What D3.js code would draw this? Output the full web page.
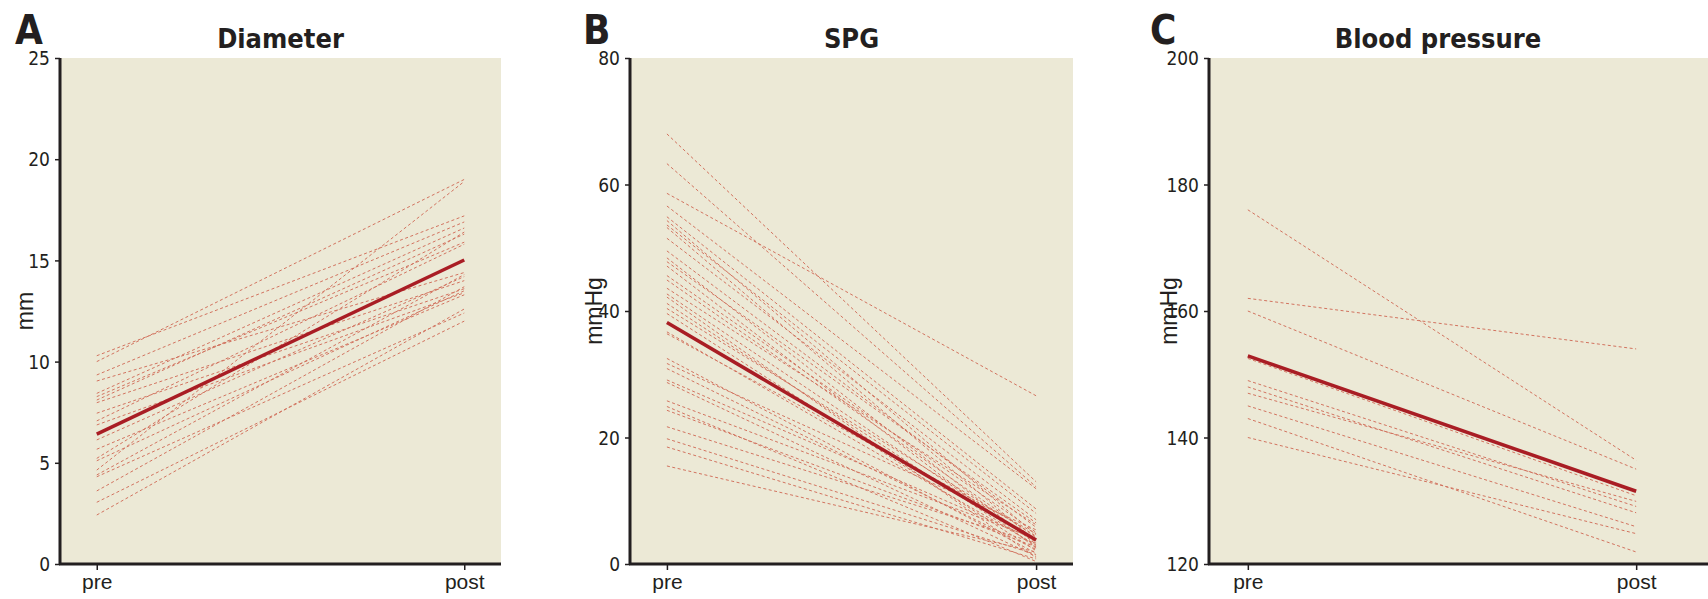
<!DOCTYPE html>
<html>
<head>
<meta charset="utf-8">
<script src="https://cdn.jsdelivr.net/npm/d3@7/dist/d3.min.js"></script>
<style>
  body { margin: 0; background: #fff; }
  .cond { font-family: "Liberation Sans Narrow", "DejaVu Sans Condensed", "Arial Narrow", sans-serif; font-stretch: condensed; }
  .reg { font-family: "Liberation Sans", Arial, sans-serif; }
</style>
</head>
<body>
<svg id="chart" width="1708" height="599"></svg>
<script>
// categories
var timepoints = ["pre", "post"];

// A: diameter (mm)
var diameterPre  = [10.29, 10.0, 9.34, 9.04, 8.43, 8.27, 8.10, 7.97, 7.45, 7.07, 6.87, 6.13, 5.67, 5.22, 5.10, 4.64, 4.40, 4.31, 3.61, 3.05, 2.42];
var diameterPost = [17.2, 19.0, 16.9, 14.4, 16.6, 15.9, 16.3, 14.0, 13.6, 15.8, 13.4, 14.2, 13.3, 16.4, 13.5, 18.9, 14.3, 12.4, 13.7, 12.0, 12.6];
var diameterMean = [6.42, 15.02];
var diameterTicks = [0, 5, 10, 15, 20, 25];

// B: SPG (mmHg)
var spgPre  = [68.0, 63.3, 58.6, 56.6, 54.9, 54.3, 53.6, 53.2, 51.5, 49.5, 48.4, 47.8, 47.1, 45.6, 44.9, 43.6, 42.7, 42.2, 41.2, 40.4, 39.6, 36.7, 36.4, 32.5, 31.7, 30.9, 29.1, 28.7, 25.8, 24.9, 24.3, 21.7, 19.8, 18.5, 15.5];
var spgPost = [13.0, 12.2, 26.6, 11.9, 8.7, 4.6, 8.0, 3.6, 7.0, 5.8, 3.1, 6.5, 2.5, 5.0, 4.2, 6.2, 3.4, 1.0, 2.8, 4.4, 2.1, 3.0, 4.8, 1.7, 5.4, 2.3, 3.8, 1.2, 4.0, 0.4, 2.7, 3.3, 1.5, 0.8, 1.9];
var spgMean = [38.2, 3.8];
var spgTicks = [0, 20, 40, 60, 80];

// C: blood pressure (mmHg)
var bpPre  = [176, 162, 160, 152.5, 149, 148, 147, 145, 143, 140];
var bpPost = [136.4, 154, 135, 130.8, 129.1, 128.1, 129.9, 125.9, 121.9, 124.8];
var bpMean = [152.9, 131.5];
var bpTicks = [120, 140, 160, 180, 200];

var panels = [
  {letter: "A", title: "Diameter", unit: "mm", pre: diameterPre, post: diameterPost, mean: diameterMean, ticks: diameterTicks,
   x0: 60, x1: 501, bgRight: 501, letterX: 15, unitX: 25},
  {letter: "B", title: "SPG", unit: "mmHg", pre: spgPre, post: spgPost, mean: spgMean, ticks: spgTicks,
   x0: 630, x1: 1073, bgRight: 1073, letterX: 583, unitX: 594},
  {letter: "C", title: "Blood pressure", unit: "mmHg", pre: bpPre, post: bpPost, mean: bpMean, ticks: bpTicks,
   x0: 1209, x1: 1675, bgRight: 1708, letterX: 1150, unitX: 1169}
];

var plotTop = 58, plotBottom = 564;
var svg = d3.select("#chart");

panels.forEach(function(p) {
  var x = d3.scalePoint().domain(timepoints).range([p.x0, p.x1]).padding(0.1);
  var y = d3.scaleLinear().domain(d3.extent(p.ticks)).range([plotBottom, plotTop]);

  var g = svg.append("g");

  g.append("rect")
    .attr("x", p.x0).attr("y", plotTop)
    .attr("width", p.bgRight - p.x0).attr("height", plotBottom - plotTop)
    .attr("fill", "#ece9d6");

  // individual patients
  var pairs = p.pre.map(function(v, i) { return [v, p.post[i]]; });
  var line = d3.line()
    .x(function(d, i) { return x(timepoints[i]); })
    .y(function(d) { return y(d); });

  g.selectAll(".subj")
    .data(pairs)
    .enter()
    .append("path")
    .attr("d", line)
    .attr("fill", "none")
    .attr("stroke", "#d2735f")
    .attr("stroke-width", 1)
    .attr("stroke-dasharray", "3,2.5");

  // mean
  g.append("path")
    .attr("d", line(p.mean))
    .attr("fill", "none")
    .attr("stroke", "#a91d24")
    .attr("stroke-width", 3.5);

  // axes
  var yAxis = g.append("g")
    .attr("transform", "translate(" + p.x0 + ",0)")
    .call(d3.axisLeft(y).tickValues(p.ticks).tickSize(5).tickPadding(5));
  var xAxis = g.append("g")
    .attr("transform", "translate(0," + plotBottom + ")")
    .call(d3.axisBottom(x).tickSize(6).tickPadding(4));

  yAxis.select(".domain").attr("d", "M0," + plotTop + "V" + plotBottom);
  xAxis.select(".domain").attr("d", "M" + (p.x0 - 1) + ",0H" + p.bgRight);

  [yAxis, xAxis].forEach(function(a) {
    a.selectAll(".domain").attr("stroke", "#231f20").attr("stroke-width", 3);
    a.selectAll(".tick line").attr("stroke", "#231f20").attr("stroke-width", 1.5);
    a.selectAll("text").attr("fill", "#231f20");
  });
  yAxis.selectAll("text").attr("class", "cond").attr("font-size", 19).attr("dy", "0.35em");
  xAxis.selectAll("text").attr("class", "reg").attr("font-size", 21);

  // titles and labels
  g.append("text")
    .attr("class", "cond")
    .attr("x", (p.x0 + p.x1) / 2 - (p.letter === "C" ? 4 : 0))
    .attr("y", 48)
    .attr("text-anchor", "middle")
    .attr("font-size", 27)
    .attr("font-weight", "bold")
    .attr("fill", "#231f20")
    .text(p.title);

  g.append("text")
    .attr("class", "cond")
    .attr("x", p.letterX)
    .attr("y", 44)
    .attr("font-size", 40)
    .attr("font-weight", "bold")
    .attr("fill", "#231f20")
    .text(p.letter);

  g.append("text")
    .attr("class", "reg")
    .attr("transform", "translate(" + (p.unitX + 8) + "," + ((plotTop + plotBottom) / 2) + ") rotate(-90)")
    .attr("text-anchor", "middle")
    .attr("font-size", 23)
    .attr("fill", "#231f20")
    .text(p.unit);
});
</script>
</body>
</html>
